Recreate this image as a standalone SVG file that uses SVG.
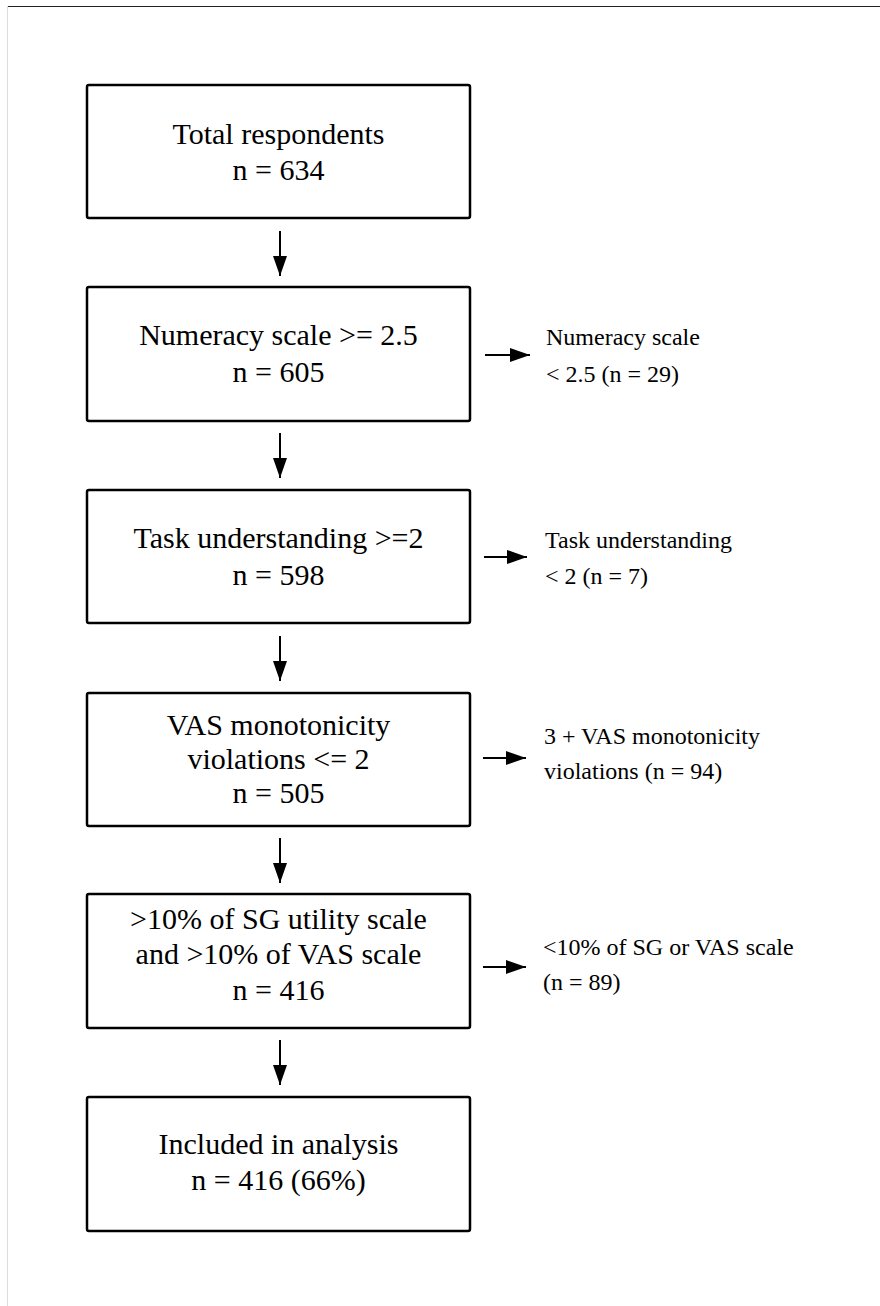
<svg xmlns="http://www.w3.org/2000/svg" width="880" height="1306" viewBox="0 0 880 1306">
<style>
.box{fill:#fff;stroke:#000;stroke-width:2.5}
.t{font-family:"Liberation Serif","Times New Roman",serif;font-size:30px;fill:#000;text-anchor:middle}
.s{font-family:"Liberation Serif","Times New Roman",serif;font-size:24px;fill:#000}
.c{stroke:#000;stroke-width:2;fill:none}
</style>
<defs>
<marker id="ah" viewBox="0 0 10 10" refX="10" refY="5" markerWidth="10" markerHeight="10" markerUnits="userSpaceOnUse" orient="auto">
<path d="M0,0 L10,5 L0,10 z" fill="#000"/>
</marker>
<marker id="ah2" viewBox="0 0 20 14" refX="20" refY="7" markerWidth="20" markerHeight="14" markerUnits="userSpaceOnUse" orient="auto">
<path d="M0,0 L20,7 L0,14 z" fill="#000"/>
</marker>
</defs>
<rect width="880" height="1306" fill="#fff"/>
<line x1="7" y1="6.5" x2="880" y2="6.5" stroke="#222" stroke-width="1.2"/>
<line x1="7.5" y1="6" x2="7.5" y2="1306" stroke="#ddd" stroke-width="1"/>

<g id="n1">
<rect class="box" x="87" y="85" width="383" height="133" rx="2"/>
<text class="t" x="278.5" y="144">Total respondents</text>
<text class="t" x="278.5" y="180">n = 634</text>
</g>
<g id="n2">
<rect class="box" x="87" y="287" width="383" height="134" rx="2"/>
<text class="t" x="278.5" y="345">Numeracy scale &gt;= 2.5</text>
<text class="t" x="278.5" y="382">n = 605</text>
</g>
<g id="n3">
<rect class="box" x="87" y="490" width="383" height="133" rx="2"/>
<text class="t" x="278.5" y="548">Task understanding &gt;=2</text>
<text class="t" x="278.5" y="585">n = 598</text>
</g>
<g id="n4">
<rect class="box" x="87" y="693" width="383" height="133" rx="2"/>
<text class="t" x="278.5" y="735">VAS monotonicity</text>
<text class="t" x="278.5" y="769">violations &lt;= 2</text>
<text class="t" x="278.5" y="803">n = 505</text>
</g>
<g id="n5">
<rect class="box" x="87" y="894" width="383" height="134" rx="2"/>
<text class="t" x="278.5" y="929">&gt;10% of SG utility scale</text>
<text class="t" x="278.5" y="964">and &gt;10% of VAS scale</text>
<text class="t" x="278.5" y="1000">n = 416</text>
</g>
<g id="n6">
<rect class="box" x="87" y="1097" width="383" height="134" rx="2"/>
<text class="t" x="278.5" y="1154">Included in analysis</text>
<text class="t" x="278.5" y="1190">n = 416 (66%)</text>
</g>

<g id="e1">
<text class="s" x="546" y="345">Numeracy scale</text>
<text class="s" x="546" y="382">&lt; 2.5 (n = 29)</text>
</g>
<g id="e2">
<text class="s" x="545" y="548">Task understanding</text>
<text class="s" x="545" y="584">&lt; 2 (n = 7)</text>
</g>
<g id="e3">
<text class="s" x="544" y="744">3 + VAS monotonicity</text>
<text class="s" x="544" y="779">violations (n = 94)</text>
</g>
<g id="e4">
<text class="s" x="543" y="955">&lt;10% of SG or VAS scale</text>
<text class="s" x="543" y="990">(n = 89)</text>
</g>

<g id="connectors">
<line class="c" x1="280" y1="231" x2="280" y2="276" marker-end="url(#ah2)"/>
<line class="c" x1="280" y1="433" x2="280" y2="478" marker-end="url(#ah2)"/>
<line class="c" x1="280" y1="636" x2="280" y2="681" marker-end="url(#ah2)"/>
<line class="c" x1="280" y1="838" x2="280" y2="883" marker-end="url(#ah2)"/>
<line class="c" x1="280" y1="1040" x2="280" y2="1085" marker-end="url(#ah2)"/>
<line class="c" x1="485" y1="355" x2="530" y2="355" marker-end="url(#ah2)"/>
<line class="c" x1="484" y1="557" x2="527" y2="557" marker-end="url(#ah2)"/>
<line class="c" x1="483" y1="758" x2="526" y2="758" marker-end="url(#ah2)"/>
<line class="c" x1="483" y1="967" x2="526" y2="967" marker-end="url(#ah2)"/>
</g>
</svg>
